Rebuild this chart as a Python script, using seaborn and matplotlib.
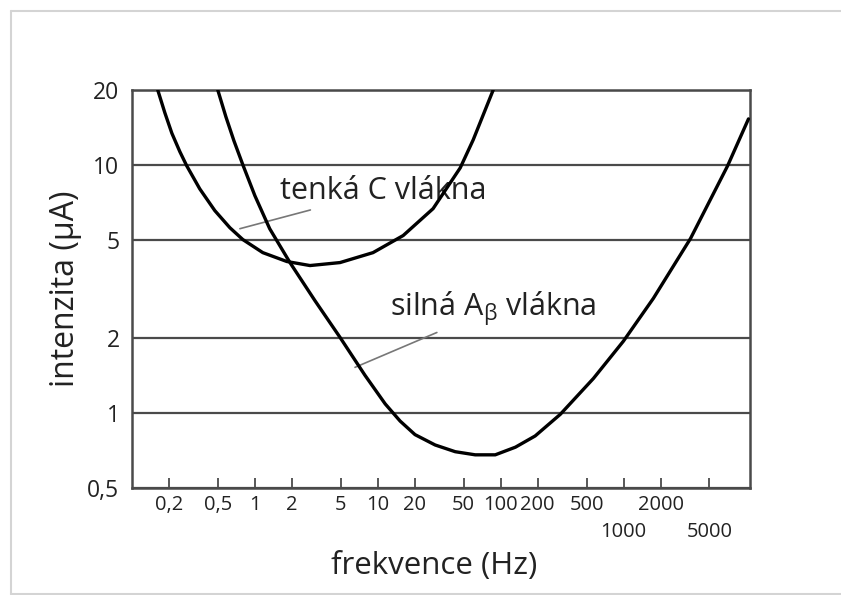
import pandas as pd
import matplotlib.pyplot as plt
import seaborn as sns
from matplotlib.lines import Line2D
from matplotlib.transforms import ScaledTranslation
from matplotlib.ticker import FixedLocator, NullFormatter, NullLocator

# hodnoty (frekvence v Hz, intenzita v µA)
c_freq = [0.162, 0.185, 0.211, 0.245, 0.279, 0.356, 0.472, 0.626, 0.798, 1.16,
          1.82, 2.81, 4.93, 9.15, 16.1, 28.2, 46.9, 59.8, 87]
c_int = [20, 16.2, 13.4, 11.3, 9.9, 8.0, 6.54, 5.58, 5.0, 4.43,
         4.08, 3.93, 4.04, 4.43, 5.19, 6.66, 9.72, 12.6, 20]

ab_freq = [0.499, 0.581, 0.675, 0.798, 1.0, 1.32, 1.93, 3.08, 4.93, 7.88, 11.5,
           15.2, 20.1, 29.3, 42.7, 62.1, 90.4, 132, 191, 306, 569, 998, 1750,
           3510, 7030, 10400]
ab_int = [20, 15.6, 12.5, 10, 7.51, 5.53, 4.04, 2.84, 2.02, 1.42, 1.09,
          0.93, 0.82, 0.745, 0.70, 0.68, 0.68, 0.73, 0.81, 0.99, 1.38, 1.95, 2.90,
          5.05, 9.9, 15.3]

x_ticks = [0.2, 0.5, 1, 2, 5, 10, 20, 50, 100, 200, 500, 1000, 2000, 5000]
x_labels = ["0,2", "0,5", "1", "2", "5", "10", "20", "50", "100", "200", "500",
            "1000", "2000", "5000"]
x_lower_row = ["1000", "5000"]
x_grid = [1, 10, 100, 1000]
y_ticks = [0.5, 1, 2, 5, 10, 20]
y_labels = ["0,5", "1", "2", "5", "10", "20"]

sns.set_theme(style="white")
plt.rcParams["font.family"] = ["Open Sans", "DejaVu Sans"]
plt.rcParams["mathtext.default"] = "regular"

GRID = "#4a4a4a"
TEXT = "#222222"

fig = plt.figure(figsize=(8.41, 5.95), dpi=100)
ax = fig.add_axes([132 / 841, 1 - 488 / 595, (750 - 132) / 841, (488 - 90) / 595])

c_df = pd.DataFrame({"freq": c_freq, "intenzita": c_int})
ab_df = pd.DataFrame({"freq": ab_freq, "intenzita": ab_int})
for df in (c_df, ab_df):
    sns.lineplot(data=df, x="freq", y="intenzita", sort=False, estimator=None,
                 color="black", linewidth=2.4, ax=ax, zorder=5)

ax.set_xscale("log")
ax.set_yscale("log")
ax.set_xlim(0.1, 10700)
ax.set_ylim(0.5, 20)

ax.xaxis.set_major_locator(FixedLocator(x_ticks))
ax.set_xticklabels(x_labels)
ax.xaxis.set_minor_locator(FixedLocator(x_grid))
ax.xaxis.set_minor_formatter(NullFormatter())
ax.yaxis.set_major_locator(FixedLocator(y_ticks))
ax.set_yticklabels(y_labels)
ax.yaxis.set_minor_locator(NullLocator())

ax.tick_params(axis="x", which="major", direction="in", length=7, width=1.3,
               color=GRID, pad=5, labelsize=14.5, labelcolor=TEXT, bottom=True)
ax.tick_params(axis="x", which="minor", length=0)
ax.tick_params(axis="y", which="major", length=0, pad=9, labelsize=16.5,
               labelcolor=TEXT)

# druhý řádek popisků pro 1000 a 5000
shift = ScaledTranslation(0, -0.27, fig.dpi_scale_trans)
for lab in ax.get_xticklabels():
    if lab.get_text() in x_lower_row:
        lab.set_transform(lab.get_transform() + shift)

ax.grid(False)
ax.grid(True, axis="x", which="minor", color=GRID, linewidth=1.6)
ax.grid(True, axis="y", which="major", color=GRID, linewidth=1.6)
for spine in ax.spines.values():
    spine.set_color(GRID)
    spine.set_linewidth(1.8)

ax.set_xlabel("frekvence (Hz)", fontsize=22.5, color=TEXT)
ax.set_ylabel("intenzita (µA)", fontsize=23, color=TEXT)
ax.xaxis.set_label_coords((434 - 132) / (750 - 132), -(551 - 488) / (488 - 90))
ax.yaxis.set_label_coords(-(132 - 82) / (750 - 132), 0.5)

# popisky křivek s odkazovými čarami
ax.annotate("tenká C vlákna", xy=(0.755, 5.53), xytext=(1.6, 7.87),
            fontsize=22, color=TEXT, va="center", ha="left",
            arrowprops=dict(arrowstyle="-", color="#777777", lw=1.2,
                            shrinkA=3, shrinkB=0))
ax.annotate("silná A$_{β}$ vlákna", xy=(6.53, 1.53), xytext=(12.6, 2.64),
            fontsize=22, color=TEXT, va="center", ha="left",
            arrowprops=dict(arrowstyle="-", color="#777777", lw=1.2,
                            shrinkA=3, shrinkB=0))

# světlý rámeček obrázku
for xs, ys in [([11, 11], [11, 594]), ([11, 841], [11, 11]), ([11, 841], [594, 594])]:
    fig.add_artist(Line2D([x / 841 for x in xs], [1 - y / 595 for y in ys],
                          color="#d4d4d4", linewidth=1.5))

fig.savefig("out.png", dpi=100)
